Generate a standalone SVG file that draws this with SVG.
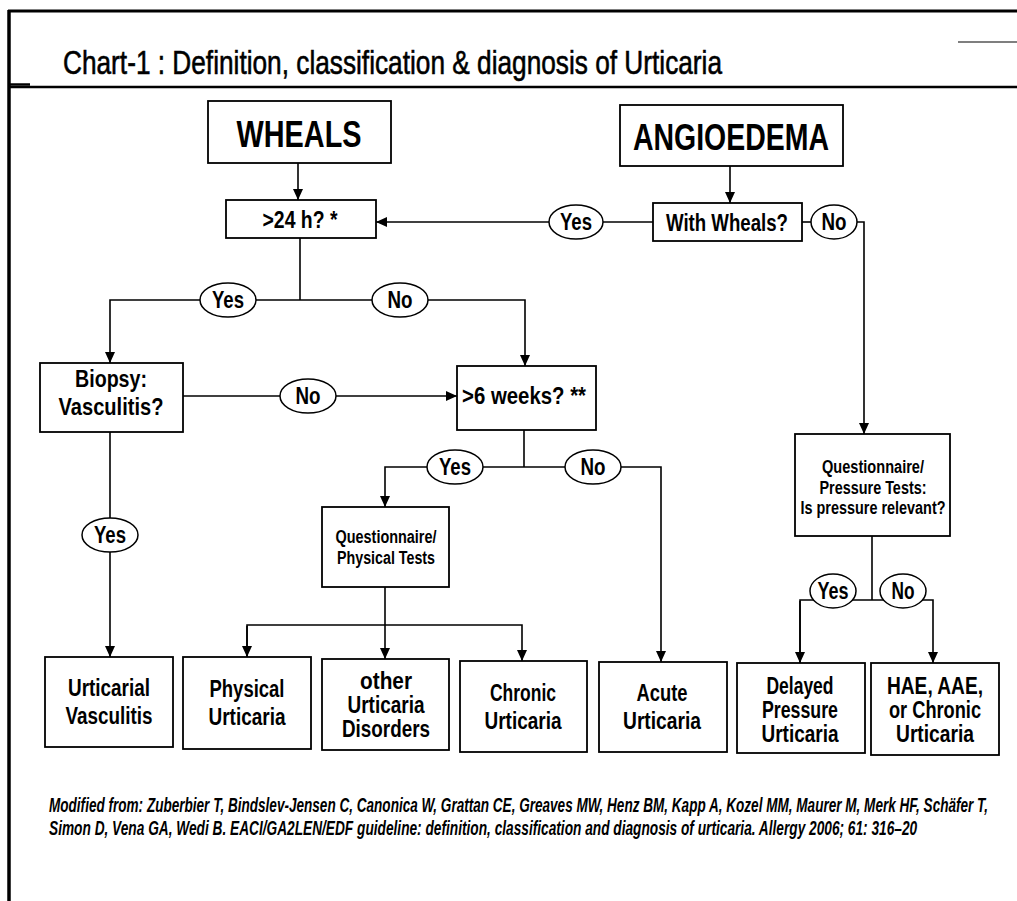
<svg xmlns="http://www.w3.org/2000/svg" width="1017" height="901" viewBox="0 0 1017 901">
<style>
text{font-family:"Liberation Sans Narrow","Liberation Sans",Arial,sans-serif;fill:#000;text-anchor:middle;font-weight:bold}
.box{fill:#fff;stroke:#000;stroke-width:1.8}
.oval{fill:#fff;stroke:#000;stroke-width:1.5}
.ln{fill:none;stroke:#000;stroke-width:1.6}
.big{font-size:37px}
.mid{font-size:24px}
.sm{font-size:17.5px}
.lbl{font-size:23px}
.out{font-size:23px}
.title{font-size:34px;font-weight:normal;text-anchor:start;stroke:#000;stroke-width:0.6}
.foot{font-size:21px;font-style:italic;text-anchor:start}
</style>
<defs>
<marker id="ah" markerUnits="userSpaceOnUse" markerWidth="12" markerHeight="12" viewBox="0 0 12 12" refX="11" refY="6" orient="auto">
<path d="M0,1 L11,6 L0,11 Z" fill="#000"/>
</marker>
</defs>
<rect width="1017" height="901" fill="#fff"/>
<g id="frame">
<line x1="8" y1="11" x2="1017" y2="11" stroke="#000" stroke-width="3"/>
<line x1="9" y1="10" x2="9" y2="901" stroke="#000" stroke-width="3.5"/>
<line x1="9" y1="87" x2="1017" y2="87" stroke="#000" stroke-width="2.5"/>
<line x1="10" y1="84.5" x2="30" y2="84.5" stroke="#000" stroke-width="2.5"/>
<line x1="958" y1="42" x2="1017" y2="42" stroke="#555" stroke-width="1.5"/>
<text class="title" x="63" y="74" textLength="659" lengthAdjust="spacingAndGlyphs">Chart-1 :  Definition, classification &amp; diagnosis of Urticaria</text>
</g>
<g id="connectors">
<line class="ln" x1="298" y1="163" x2="298" y2="200" marker-end="url(#ah)"/>
<line class="ln" x1="730" y1="166" x2="730" y2="203" marker-end="url(#ah)"/>
<line class="ln" x1="653" y1="222" x2="603" y2="222"/>
<line class="ln" x1="549" y1="222" x2="376" y2="222" marker-end="url(#ah)"/>
<line class="ln" x1="802" y1="222" x2="811" y2="222"/>
<polyline class="ln" points="857,222 864,222 864,434" marker-end="url(#ah)"/>
<line class="ln" x1="300" y1="238" x2="300" y2="300"/>
<polyline class="ln" points="200,300 110,300 110,363" marker-end="url(#ah)"/>
<line class="ln" x1="256" y1="300" x2="372" y2="300"/>
<polyline class="ln" points="428,300 525,300 525,366" marker-end="url(#ah)"/>
<line class="ln" x1="183" y1="396" x2="280" y2="396"/>
<line class="ln" x1="336" y1="396" x2="457" y2="396" marker-end="url(#ah)"/>
<line class="ln" x1="110" y1="432" x2="110" y2="518"/>
<line class="ln" x1="110" y1="552" x2="110" y2="657" marker-end="url(#ah)"/>
<line class="ln" x1="524" y1="430" x2="524" y2="467"/>
<polyline class="ln" points="427,467 385,467 385,507" marker-end="url(#ah)"/>
<line class="ln" x1="483" y1="467" x2="565" y2="467"/>
<polyline class="ln" points="621,467 661,467 661,662" marker-end="url(#ah)"/>
<line class="ln" x1="385" y1="587" x2="385" y2="659" marker-end="url(#ah)"/>
<polyline class="ln" points="247,657 247,625 522,625 522,661" marker-end="url(#ah)"/>
<line class="ln" x1="247" y1="626" x2="247" y2="657" marker-end="url(#ah)"/>
<line class="ln" x1="872" y1="536" x2="872" y2="600"/>
<polyline class="ln" points="800,663 800,600 933,600 933,663" marker-end="url(#ah)"/>
<line class="ln" x1="800" y1="601" x2="800" y2="663" marker-end="url(#ah)"/>
</g>
<g id="labels">
<ellipse class="oval" cx="576" cy="222" rx="27" ry="17"/><text class="lbl" x="576" y="230" textLength="32" lengthAdjust="spacingAndGlyphs">Yes</text>
<ellipse class="oval" cx="834" cy="222" rx="23" ry="17"/><text class="lbl" x="834" y="230" textLength="25" lengthAdjust="spacingAndGlyphs">No</text>
<ellipse class="oval" cx="228" cy="300" rx="28" ry="17"/><text class="lbl" x="228" y="308" textLength="32" lengthAdjust="spacingAndGlyphs">Yes</text>
<ellipse class="oval" cx="400" cy="300" rx="28" ry="17"/><text class="lbl" x="400" y="308" textLength="25" lengthAdjust="spacingAndGlyphs">No</text>
<ellipse class="oval" cx="308" cy="396" rx="28" ry="17"/><text class="lbl" x="308" y="404" textLength="25" lengthAdjust="spacingAndGlyphs">No</text>
<ellipse class="oval" cx="110" cy="535" rx="28" ry="17"/><text class="lbl" x="110" y="543" textLength="32" lengthAdjust="spacingAndGlyphs">Yes</text>
<ellipse class="oval" cx="455" cy="467" rx="28" ry="17"/><text class="lbl" x="455" y="475" textLength="32" lengthAdjust="spacingAndGlyphs">Yes</text>
<ellipse class="oval" cx="593" cy="467" rx="28" ry="17"/><text class="lbl" x="593" y="475" textLength="25" lengthAdjust="spacingAndGlyphs">No</text>
<ellipse class="oval" cx="833" cy="591" rx="23" ry="17"/><text class="lbl" x="833" y="599" textLength="31" lengthAdjust="spacingAndGlyphs">Yes</text>
<ellipse class="oval" cx="903" cy="591" rx="23" ry="17"/><text class="lbl" x="903" y="599" textLength="23" lengthAdjust="spacingAndGlyphs">No</text>
</g>
<g id="wheals"><rect class="box" x="208" y="101" width="183" height="62"/><text class="big" x="299" y="147" textLength="125" lengthAdjust="spacingAndGlyphs">WHEALS</text></g>
<g id="angioedema"><rect class="box" x="620" y="105" width="223" height="61"/><text class="big" x="731" y="150" textLength="196" lengthAdjust="spacingAndGlyphs">ANGIOEDEMA</text></g>
<g id="h24"><rect class="box" x="226" y="200" width="150" height="38"/><text class="mid" x="300" y="228" textLength="75" lengthAdjust="spacingAndGlyphs">&gt;24 h? *</text></g>
<g id="withwheals"><rect class="box" x="653" y="203" width="149" height="38"/><text class="mid" x="727" y="231" textLength="122" lengthAdjust="spacingAndGlyphs">With Wheals?</text></g>
<g id="biopsy"><rect class="box" x="40" y="363" width="143" height="69"/><text class="mid" x="111" y="387" textLength="72" lengthAdjust="spacingAndGlyphs">Biopsy:</text><text class="mid" x="111" y="415" textLength="105" lengthAdjust="spacingAndGlyphs">Vasculitis?</text></g>
<g id="weeks6"><rect class="box" x="457" y="366" width="139" height="64"/><text class="mid" x="524" y="404" textLength="124" lengthAdjust="spacingAndGlyphs">&gt;6 weeks? **</text></g>
<g id="qphys"><rect class="box" x="322" y="507" width="127" height="80"/><text class="sm" x="386" y="543" textLength="101" lengthAdjust="spacingAndGlyphs">Questionnaire/</text><text class="sm" x="386" y="564" textLength="98" lengthAdjust="spacingAndGlyphs">Physical Tests</text></g>
<g id="qpress"><rect class="box" x="795" y="434" width="155" height="102"/><text class="sm" x="873" y="473" textLength="102" lengthAdjust="spacingAndGlyphs">Questionnaire/</text><text class="sm" x="873" y="494" textLength="107" lengthAdjust="spacingAndGlyphs">Pressure Tests:</text><text class="sm" x="873" y="514" textLength="145" lengthAdjust="spacingAndGlyphs">Is pressure relevant?</text></g>
<g id="uv"><rect class="box" x="45" y="657" width="128" height="90"/><text class="out" x="109" y="696" textLength="82" lengthAdjust="spacingAndGlyphs">Urticarial</text><text class="out" x="109" y="724" textLength="87" lengthAdjust="spacingAndGlyphs">Vasculitis</text></g>
<g id="pu"><rect class="box" x="183" y="657" width="128" height="92"/><text class="out" x="247" y="697" textLength="75" lengthAdjust="spacingAndGlyphs">Physical</text><text class="out" x="247" y="725" textLength="77" lengthAdjust="spacingAndGlyphs">Urticaria</text></g>
<g id="oud"><rect class="box" x="322" y="659" width="127" height="91"/><text class="out" x="386" y="689" textLength="52" lengthAdjust="spacingAndGlyphs">other</text><text class="out" x="386" y="713" textLength="77" lengthAdjust="spacingAndGlyphs">Urticaria</text><text class="out" x="386" y="737" textLength="88" lengthAdjust="spacingAndGlyphs">Disorders</text></g>
<g id="cu"><rect class="box" x="460" y="661" width="127" height="91"/><text class="out" x="523" y="701" textLength="66" lengthAdjust="spacingAndGlyphs">Chronic</text><text class="out" x="523" y="729" textLength="77" lengthAdjust="spacingAndGlyphs">Urticaria</text></g>
<g id="au"><rect class="box" x="599" y="662" width="128" height="90"/><text class="out" x="662" y="701" textLength="51" lengthAdjust="spacingAndGlyphs">Acute</text><text class="out" x="662" y="729" textLength="78" lengthAdjust="spacingAndGlyphs">Urticaria</text></g>
<g id="dpu"><rect class="box" x="737" y="663" width="128" height="90"/><text class="out" x="800" y="694" textLength="67" lengthAdjust="spacingAndGlyphs">Delayed</text><text class="out" x="800" y="718" textLength="76" lengthAdjust="spacingAndGlyphs">Pressure</text><text class="out" x="800" y="742" textLength="77" lengthAdjust="spacingAndGlyphs">Urticaria</text></g>
<g id="hae"><rect class="box" x="871" y="663" width="128" height="92"/><text class="out" x="935" y="694" textLength="96" lengthAdjust="spacingAndGlyphs">HAE, AAE,</text><text class="out" x="935" y="718" textLength="92" lengthAdjust="spacingAndGlyphs">or Chronic</text><text class="out" x="935" y="742" textLength="78" lengthAdjust="spacingAndGlyphs">Urticaria</text></g>
<g id="footer">
<text class="foot" transform="translate(49,812) scale(0.56,1)" x="0" y="0" textLength="1677" lengthAdjust="spacingAndGlyphs">Modified from: Zuberbier T, Bindslev-Jensen C, Canonica W, Grattan CE, Greaves MW, Henz BM, Kapp A, Kozel MM, Maurer M, Merk HF, Schäfer T,</text>
<text class="foot" transform="translate(49,835) scale(0.53,1)" x="0" y="0" textLength="1638" lengthAdjust="spacingAndGlyphs">Simon D, Vena GA, Wedi B. EACI/GA2LEN/EDF guideline: definition, classification and diagnosis of urticaria. Allergy 2006; 61: 316–20</text>
</g>
</svg>
